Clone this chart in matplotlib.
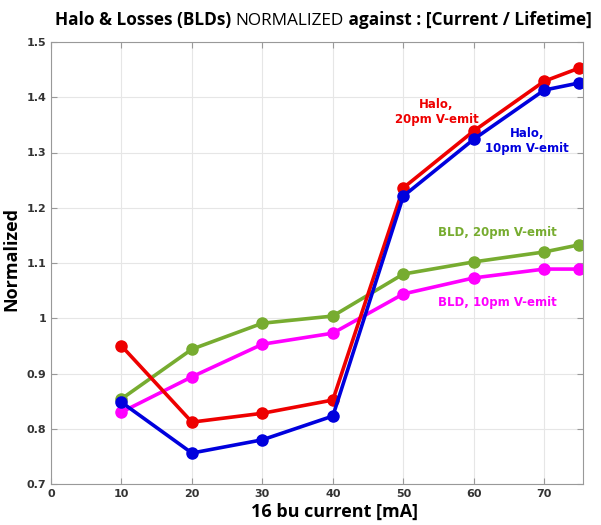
import numpy as np
import matplotlib.pyplot as plt

# bunch current [mA]
current = [10, 20, 30, 40, 50, 60, 70, 75]

halo_20pm = [0.950, 0.812, 0.828, 0.852, 1.236, 1.339, 1.429, 1.453]
halo_10pm = [0.848, 0.756, 0.780, 0.823, 1.221, 1.324, 1.413, 1.426]
bld_20pm = [0.854, 0.944, 0.991, 1.004, 1.080, 1.102, 1.120, 1.133]
bld_10pm = [0.830, 0.894, 0.953, 0.973, 1.044, 1.073, 1.089, 1.089]

xticks = [0, 10, 20, 30, 40, 50, 60, 70]
yticks = [0.7, 0.8, 0.9, 1.0, 1.1, 1.2, 1.3, 1.4, 1.5]
yticklabels = ['0.7', '0.8', '0.9', '1', '1.1', '1.2', '1.3', '1.4', '1.5']

red = '#ee0000'
blue = '#0000dd'
green = '#77ac30'
magenta = '#ff00ff'

fig = plt.figure(figsize=(6.01, 5.25), dpi=100)
ax = fig.add_axes([51 / 601, 1 - 484 / 525, (583 - 51) / 601, (484 - 42) / 525])

ax.plot(current, bld_20pm, '-o', color=green, lw=2.6, ms=8)
ax.plot(current, bld_10pm, '-o', color=magenta, lw=2.6, ms=8)
ax.plot(current, halo_20pm, '-o', color=red, lw=2.6, ms=8)
ax.plot(current, halo_10pm, '-o', color=blue, lw=2.6, ms=8)

ax.set_xlim(0, 75.5)
ax.set_ylim(0.7, 1.5)
ax.set_xticks(xticks)
ax.set_yticks(yticks)
ax.set_yticklabels(yticklabels)
ax.grid(True, color='#e6e6e6', lw=0.8)
ax.set_axisbelow(True)
ax.tick_params(direction='in', top=True, right=True, length=4, color='#999999',
               labelsize=8, labelcolor='#333333')
for lab in ax.get_xticklabels() + ax.get_yticklabels():
    lab.set_fontweight('bold')
for s in ax.spines.values():
    s.set_color('#999999')

lbl_font = dict(family='Open Sans', fontweight='bold', fontsize=13)
ax.set_xlabel('16 bu current [mA]', **lbl_font)
ax.xaxis.set_label_coords(0.532, -0.043)
ax.set_ylabel('Normalized', **lbl_font)
ax.yaxis.set_label_coords(-0.058, 0.51)

txt = dict(fontsize=8.5, fontweight='bold', ha='center', va='center')
ax.text(54.7, 1.373, 'Halo,\n20pm V-emit', color=red, **txt)
ax.text(67.5, 1.321, 'Halo,\n10pm V-emit', color=blue, **txt)
ax.text(63.3, 1.156, 'BLD, 20pm V-emit', color=green, **txt)
ax.text(63.3, 1.029, 'BLD, 10pm V-emit', color=magenta, **txt)

# title with mixed weights
tfont = dict(family='Open Sans', fontsize=12.4)
t1 = fig.text(55 / 601, 1 - 25 / 525, 'Halo & Losses (BLDs) ', fontweight='bold', va='baseline', **tfont)
t2 = ax.annotate('NORMALIZED', xy=(1, 0), xycoords=t1, va='bottom', fontweight='normal',
                 annotation_clip=False, **tfont)
t3 = ax.annotate(' against : [Current / Lifetime]', xy=(1, 0), xycoords=t2, va='bottom',
                 fontweight='bold', annotation_clip=False, **tfont)

fig.savefig('out.png', dpi=100)
